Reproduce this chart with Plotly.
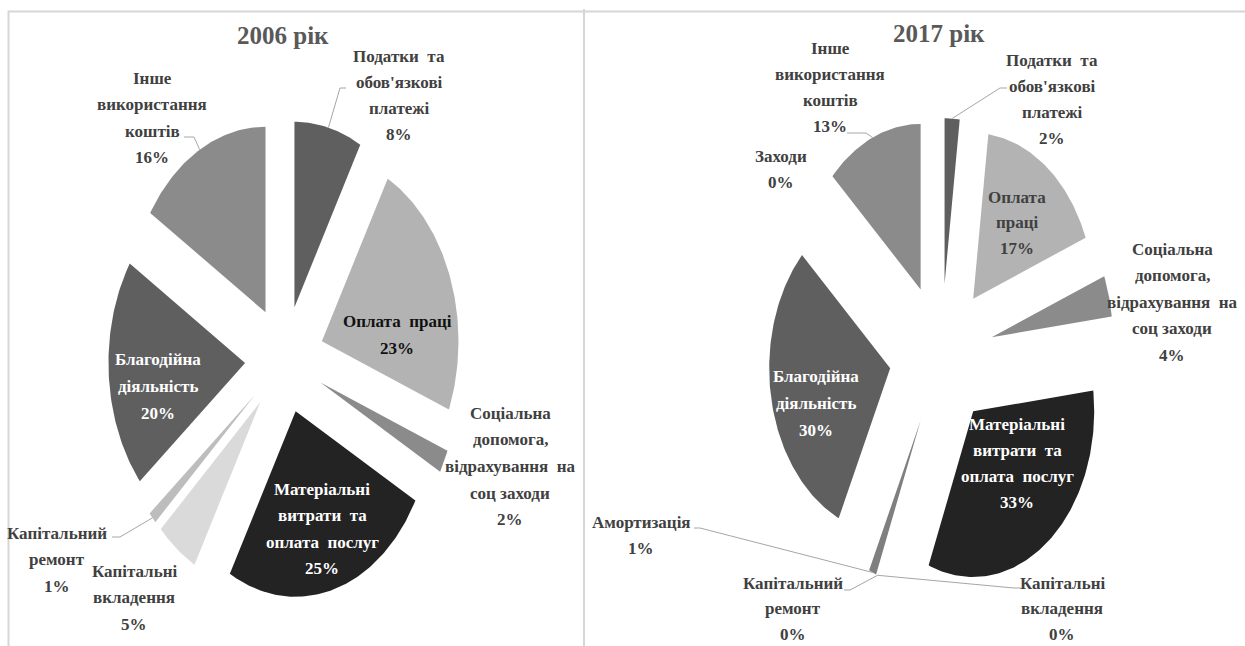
import math
import plotly.graph_objects as go

# ---- data -------------------------------------------------------------
categories = [
    "Податки та обов'язкові платежі",
    "Оплата праці",
    "Соціальна допомога, відрахування на соц заходи",
    "Матеріальні витрати та оплата послуг",
    "Капітальні вкладення",
    "Капітальний ремонт",
    "Амортизація",
    "Благодійна діяльність",
    "Заходи",
    "Інше використання коштів",
]
share_2006 = [8, 23, 2, 25, 5, 1, None, 20, None, 16]
share_2017 = [2, 17, 4, 33, 0, 0, 1, 30, 0, 13]

NB = "\u00a0"
# how each category name is broken into lines on the chart
label_lines_2006 = [
    ["Податки" + NB + " та", "обов'язкові", "платежі"],
    ["Оплата" + NB + " праці"],
    ["Соціальна", "допомога,", "відрахування" + NB + " на", "соц заходи"],
    ["Матеріальні", "витрати" + NB + " та", "оплата" + NB + " послуг"],
    ["Капітальні", "вкладення"],
    ["Капітальний", "ремонт"],
    None,
    ["Благодійна", "діяльність"],
    None,
    ["Інше", "використання", "коштів"],
]
label_lines_2017 = [
    ["Податки" + NB + " та", "обов'язкові", "платежі"],
    ["Оплата", "праці"],
    ["Соціальна", "допомога,", "відрахування" + NB + " на", "соц заходи"],
    ["Матеріальні", "витрати" + NB + " та", "оплата" + NB + " послуг"],
    ["Капітальні", "вкладення"],
    ["Капітальний", "ремонт"],
    ["Амортизація"],
    ["Благодійна", "діяльність"],
    ["Заходи"],
    ["Інше", "використання", "коштів"],
]

# ---- styling ----------------------------------------------------------
slice_colors = ["#5f5f5f", "#b3b3b3", "#8b8b8b", "#232323", "#dadada",
                "#bdbdbd", "#7f7f7f", "#5f5f5f", "#9a9a9a", "#8b8b8b"]
FONT = "Liberation Serif, Times New Roman, serif"
OUT_TXT = "#404040"
LEADER = "#a6a6a6"

W, H = 1245, 646

charts = [
    dict(title="2006 рік", shares=share_2006, lines=label_lines_2006,
         cx=284.6, cy=359.5, rx=136.6, ry=185.6, explode=0.29,
         title_pos=(283, 35),
         # (centre x, first line y, line step, colour)
         labels={0: (399, 56, 26, OUT_TXT), 1: (397, 321, 27, "#111111"),
                 2: (510, 413, 26.7, OUT_TXT), 3: (322, 489, 26.5, "#ffffff"),
                 4: (134, 571, 26.5, OUT_TXT), 5: (57, 533, 26.5, OUT_TXT),
                 7: (158, 359, 27, "#ffffff"), 9: (152, 78, 26.5, OUT_TXT)},
         leaders={0: [(346, 88), (340, 88)], 9: [(184, 137), (194, 137)],
                  5: [(112, 537), (120, 537)]}),
    dict(title="2017 рік", shares=share_2017, lines=label_lines_2017,
         cx=941.3, cy=355.0, rx=121.0, ry=165.7, explode=0.43,
         title_pos=(939, 33),
         labels={0: (1052, 60, 26.3, OUT_TXT), 1: (1017, 197, 25.7, "#404040"),
                 2: (1172, 249, 26.6, OUT_TXT), 3: (1017, 424, 26.3, "#ffffff"),
                 4: (1062, 583, 25.5, OUT_TXT), 5: (793, 583, 25.5, OUT_TXT),
                 6: (641, 522, 26, OUT_TXT), 7: (816, 376, 27, "#ffffff"),
                 8: (781, 156, 26.5, OUT_TXT), 9: (830, 48, 26, OUT_TXT)},
         leaders={0: [(1007, 88), (1000, 88)], 9: [(847, 133), (866, 133)],
                  6: [(694, 528), (700, 528)], 5: [(844, 590), (850, 590)],
                  4: [(1021, 588), (1014, 588)]}),
]

fig = go.Figure()
annotations = []


def slice_outline(c, a0, a1):
    """Exploded elliptical wedge between clockwise angles a0..a1 (radians from 12 o'clock)."""
    mid = 0.5 * (a0 + a1)
    ox = c["cx"] + c["explode"] * c["rx"] * math.sin(mid)
    oy = c["cy"] - c["explode"] * c["ry"] * math.cos(mid)
    n = max(3, int(math.degrees(a1 - a0)) + 2)
    xs, ys = [ox], [oy]
    for k in range(n):
        t = a0 + (a1 - a0) * k / (n - 1)
        xs.append(ox + c["rx"] * math.sin(t))
        ys.append(oy - c["ry"] * math.cos(t))
    xs.append(ox)
    ys.append(oy)
    return xs, ys


def edge_point(c, ang):
    k = 1 + c["explode"]
    return c["cx"] + k * c["rx"] * math.sin(ang), c["cy"] - k * c["ry"] * math.cos(ang)


for c in charts:
    vals = [v if v is not None else 0 for v in c["shares"]]
    total = float(sum(vals))
    start = 0.0
    for i, v in enumerate(c["shares"]):
        if v is None:
            continue
        a0 = 2 * math.pi * start / total
        a1 = 2 * math.pi * (start + v) / total
        start += v
        if v > 0:
            xs, ys = slice_outline(c, a0, a1)
            fig.add_trace(go.Scatter(
                x=xs, y=ys, mode="lines", fill="toself",
                fillcolor=slice_colors[i], line=dict(width=0),
                name=categories[i], hoverinfo="name", showlegend=False))
        # leader line from label to slice edge
        if i in c["leaders"]:
            px, py = edge_point(c, 0.5 * (a0 + a1))
            pts = c["leaders"][i] + [(px, py)]
            fig.add_trace(go.Scatter(
                x=[p[0] for p in pts], y=[p[1] for p in pts], mode="lines",
                line=dict(color=LEADER, width=1), hoverinfo="skip",
                showlegend=False))
        if i in c["labels"]:
            lx, ly, step, col = c["labels"][i]
            text_lines = c["lines"][i] + [f"{v}%"]
            for j, t in enumerate(text_lines):
                annotations.append(dict(
                    x=lx, y=ly + j * step, xref="x", yref="y", text=t,
                    showarrow=False, xanchor="center", yanchor="middle",
                    font=dict(family=FONT, size=17, color=col, weight="bold")))
    tx, ty = c["title_pos"]
    annotations.append(dict(
        x=tx, y=ty, xref="x", yref="y", text=c["title"], showarrow=False,
        xanchor="center", yanchor="middle",
        font=dict(family=FONT, size=25, color="#595959", weight="bold")))

# panel frames
frame = dict(color="#d6d6d6", width=2)
shapes = [
    dict(type="line", xref="x", yref="y", x0=8, x1=W, y0=11.5, y1=11.5, line=frame),
    dict(type="line", xref="x", yref="y", x0=8.5, x1=8.5, y0=11, y1=H, line=frame),
    dict(type="line", xref="x", yref="y", x0=584, x1=584, y0=9, y1=H, line=frame),
]

fig.update_layout(
    width=W, height=H, autosize=False,
    margin=dict(l=0, r=0, t=0, b=0),
    paper_bgcolor="white", plot_bgcolor="white",
    xaxis=dict(range=[0, W], visible=False, fixedrange=True),
    yaxis=dict(range=[H, 0], visible=False, fixedrange=True),
    annotations=annotations, shapes=shapes,
)

fig.write_html("out.html")
